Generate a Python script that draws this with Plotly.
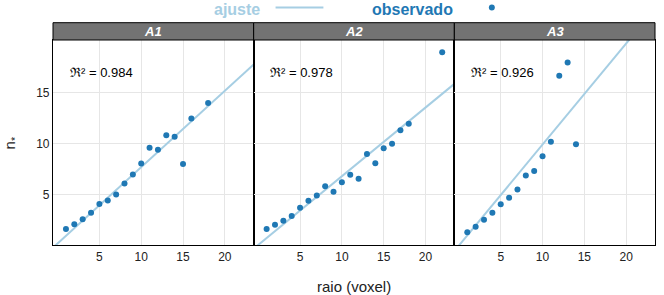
import plotly.graph_objects as go
from plotly.subplots import make_subplots

# ---- data ----
panels = ["A1", "A2", "A3"]
x_A1 = [1, 2, 3, 4, 5, 6, 7, 8, 9, 10, 11, 12, 13, 14, 15, 16, 18]
y_A1 = [1.64, 2.12, 2.6, 3.25, 4.1, 4.45, 5.03, 6.1, 7.0, 8.06, 9.6, 9.42, 10.83, 10.7, 8.03, 12.48, 14.0]
x_A2 = [1, 2, 3, 4, 5, 6, 7, 8, 9, 10, 11, 12, 13, 14, 15, 16, 17, 18, 22]
y_A2 = [1.64, 2.06, 2.45, 2.93, 3.74, 4.41, 4.93, 5.84, 5.31, 6.22, 6.96, 6.57, 8.99, 8.09, 9.55, 10.0, 11.32, 11.97, 18.96]
x_A3 = [1, 2, 3, 4, 5, 6, 7, 8, 9, 10, 11, 12, 13, 14]
y_A3 = [1.32, 1.87, 2.56, 3.24, 4.08, 4.72, 5.53, 6.89, 7.34, 8.77, 10.2, 16.66, 17.96, 9.96]
fit_intercept = [0.23, 0.09, 0.03]
fit_slope = [0.748, 0.673, 0.99]
r2_labels = ["0.984", "0.978", "0.926"]
x_ticks = [5, 10, 15, 20]
y_ticks = [5, 10, 15]
x_range = [-0.55, 23.45]
y_range = [0.08, 20.17]

xs = [x_A1, x_A2, x_A3]
ys = [y_A1, y_A2, y_A3]

PT = "#1f78b4"
LN = "#a6cee3"
FONT = "Liberation Sans, Arial, sans-serif"

W, H = 664, 295
ML, MR, MT, MB = 52.7, 7.3, 40, 50
PW = W - ML - MR
PH = H - MT - MB

fig = make_subplots(rows=1, cols=3, horizontal_spacing=0, shared_yaxes=True)

for i in range(3):
    a, b = fit_intercept[i], fit_slope[i]
    fx = list(x_range)
    fy = [a + b * v for v in fx]
    fig.add_trace(go.Scatter(x=fx, y=fy, mode="lines",
                             line=dict(color=LN, width=2), showlegend=False,
                             hoverinfo="skip"), row=1, col=i + 1)
    fig.add_trace(go.Scatter(x=xs[i], y=ys[i], mode="markers",
                             marker=dict(color=PT, size=6), showlegend=False),
                  row=1, col=i + 1)
    fig.update_xaxes(range=x_range, tickvals=x_ticks, showgrid=True,
                     gridcolor="#e6e6e6", gridwidth=1, zeroline=False,
                     showline=True, linecolor="black", linewidth=1.2, mirror=True,
                     tickfont=dict(size=12, color="#222", family=FONT),
                     ticks="", row=1, col=i + 1)
    fig.update_yaxes(range=y_range, tickvals=y_ticks, showgrid=True,
                     gridcolor="#e6e6e6", gridwidth=1, zeroline=False,
                     showline=True, linecolor="black", linewidth=1.2, mirror=True,
                     tickfont=dict(size=12, color="#222", family=FONT),
                     ticks="", showticklabels=(i == 0), row=1, col=i + 1)
    fig.add_annotation(x=1.2, y=17.0, xref=f"x{'' if i == 0 else i + 1}",
                       yref=f"y{'' if i == 0 else i + 1}",
                       text="ℜ² = " + r2_labels[i], showarrow=False,
                       xanchor="left", yanchor="middle",
                       font=dict(size=13, color="black", family=FONT))
    x0 = i / 3
    x1 = (i + 1) / 3
    s1 = 1 + 17.3 / PH
    fig.add_shape(type="rect", xref="paper", yref="paper", x0=x0, x1=x1,
                  y0=1, y1=s1, fillcolor="#737373",
                  line=dict(color="black", width=1), layer="above")
    fig.add_annotation(x=(x0 + x1) / 2, y=(1 + s1) / 2, xref="paper", yref="paper",
                       text="<b><i>" + panels[i] + "</i></b>", showarrow=False,
                       font=dict(size=13, color="white", family=FONT),
                       xanchor="center", yanchor="middle")

def px_x(p):
    return (p - ML) / PW

def px_y(p):
    return (H - MB - p) / PH

fig.add_annotation(x=px_x(237), y=px_y(9), xref="paper", yref="paper",
                   text="<b>ajuste</b>", showarrow=False,
                   font=dict(size=16, color=LN, family=FONT),
                   xanchor="center", yanchor="middle")
fig.add_shape(type="line", xref="paper", yref="paper",
              x0=px_x(276), x1=px_x(324), y0=px_y(7.5), y1=px_y(7.5),
              line=dict(color=LN, width=2))
fig.add_annotation(x=px_x(413.5), y=px_y(9), xref="paper", yref="paper",
                   text="<b>observado</b>", showarrow=False,
                   font=dict(size=16, color=PT, family=FONT),
                   xanchor="center", yanchor="middle")
fig.add_shape(type="circle", xref="paper", yref="paper",
              x0=px_x(490), x1=px_x(496), y0=px_y(4.5), y1=px_y(10.5),
              fillcolor=PT, line=dict(color=PT, width=0))

fig.add_annotation(x=px_x(355), y=px_y(286), xref="paper", yref="paper",
                   text="raio (voxel)", showarrow=False,
                   font=dict(size=15, color="#222", family=FONT),
                   xanchor="center", yanchor="middle")
fig.add_annotation(x=px_x(10), y=px_y(143), xref="paper", yref="paper",
                   text="n<sub>*</sub>", showarrow=False, textangle=-90,
                   font=dict(size=15, color="#222", family=FONT),
                   xanchor="center", yanchor="middle")

fig.update_layout(width=W, height=H,
                  margin=dict(l=ML, r=MR, t=MT, b=MB, pad=0),
                  plot_bgcolor="white", paper_bgcolor="white",
                  showlegend=False, font=dict(family=FONT))

fig.write_html("out.html", config={"displayModeBar": False},
               post_script="document.body.style.margin='0';document.body.style.padding='0';")
